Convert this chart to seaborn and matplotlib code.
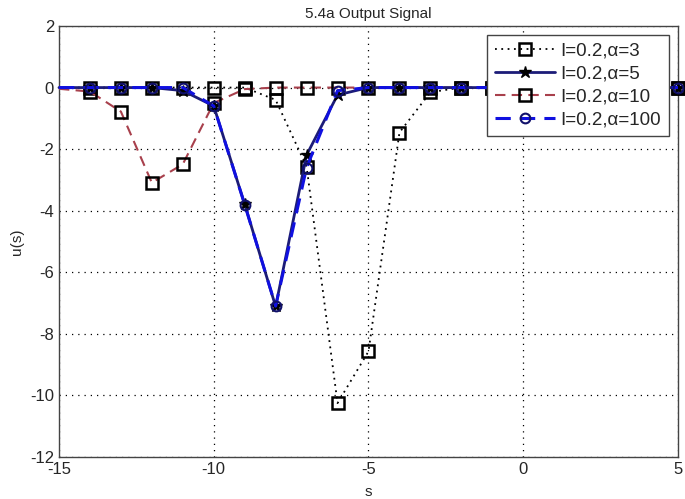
import pandas as pd
import matplotlib
matplotlib.use("Agg")
import matplotlib.pyplot as plt
import seaborn as sns

# Data
s_values = list(range(-15, 6))
u_alpha3 = [0, 0, 0, 0, 0, 0, 0, -0.4, -2.57, -10.25, -8.57, -1.46, -0.15, 0, 0, 0, 0, 0, 0, 0, 0]
u_alpha5 = [0, 0, 0, 0, -0.1, -0.6, -3.79, -7.11, -2.19, -0.24, 0, 0, 0, 0, 0, 0, 0, 0, 0, 0, 0]
u_alpha10 = [-0.04, -0.13, -0.78, -3.09, -2.49, -0.5, -0.05, 0, 0, 0, 0, 0, 0, 0, 0, 0, 0, 0, 0, 0, 0]
u_alpha100 = [0, 0, 0, 0, 0, -0.6, -3.8, -7.1, -2.6, -0.1, 0, 0, 0, 0, 0, 0, 0, 0, 0, 0, 0]
labels = ["I=0.2,α=3", "I=0.2,α=5", "I=0.2,α=10", "I=0.2,α=100"]

sns.set_style("white")
plt.rcParams["font.family"] = ["Liberation Sans", "DejaVu Sans"]
plt.rcParams["axes.unicode_minus"] = False

fig = plt.figure(figsize=(6.85, 4.99), dpi=100)
ax = fig.add_axes([0.0861, 0.0842, 0.9037, 0.8637])

mk = slice(1, None)  # no marker on the first point (s=-15)

sns.lineplot(x=s_values, y=u_alpha3, ax=ax, color="black", linestyle=(0, (1, 2.5)), lw=1.3,
             marker="s", markersize=8.5, markerfacecolor="none", markeredgecolor="black",
             markeredgewidth=1.8, markevery=mk, label=labels[0], clip_on=False, zorder=3)
sns.lineplot(x=s_values, y=u_alpha5, ax=ax, color="#1c1c78", linestyle="-", lw=2.0,
             marker="*", markersize=9, markerfacecolor="black", markeredgecolor="black",
             markeredgewidth=1.0, markevery=mk, label=labels[1], clip_on=False, zorder=4)
sns.lineplot(x=s_values, y=u_alpha10, ax=ax, color="#a8404c", linestyle=(0, (5, 3)), lw=1.5,
             marker="s", markersize=8.5, markerfacecolor="none", markeredgecolor="black",
             markeredgewidth=1.8, markevery=mk, label=labels[2], clip_on=False, zorder=3)
sns.lineplot(x=s_values, y=u_alpha100, ax=ax, color="#1010e0", linestyle=(0, (5, 3)), lw=2.2,
             marker="o", markersize=7, markerfacecolor="none", markeredgecolor="#10106a",
             markeredgewidth=1.5, markevery=mk, label=labels[3], clip_on=False, zorder=5)

ax.set_xlim(-15, 5)
ax.set_ylim(-12, 2)
ax.set_xticks([-15, -10, -5, 0, 5])
ax.set_yticks([2, 0, -2, -4, -6, -8, -10, -12])
ax.grid(True, linestyle=(0, (1, 4)), color="black", linewidth=0.9)
ax.tick_params(direction="in", labelsize=12, length=4, color="#444444")
for sp in ax.spines.values():
    sp.set_color("#444444")
    sp.set_linewidth(1.0)

ax.set_title("5.4a Output Signal", fontsize=11, pad=6)
ax.set_xlabel("s", fontsize=11, labelpad=6)
ax.set_ylabel("u(s)", fontsize=11, labelpad=4)

leg = ax.legend(loc="upper right", fontsize=13.5, frameon=True, fancybox=False,
                framealpha=1, edgecolor="#444444", handlelength=3.2,
                borderaxespad=0.5, labelspacing=0.3, handletextpad=0.3,
                borderpad=0.4)
leg.get_frame().set_linewidth(1.0)
leg.set_zorder(10)

fig.savefig("out.png", dpi=100)
